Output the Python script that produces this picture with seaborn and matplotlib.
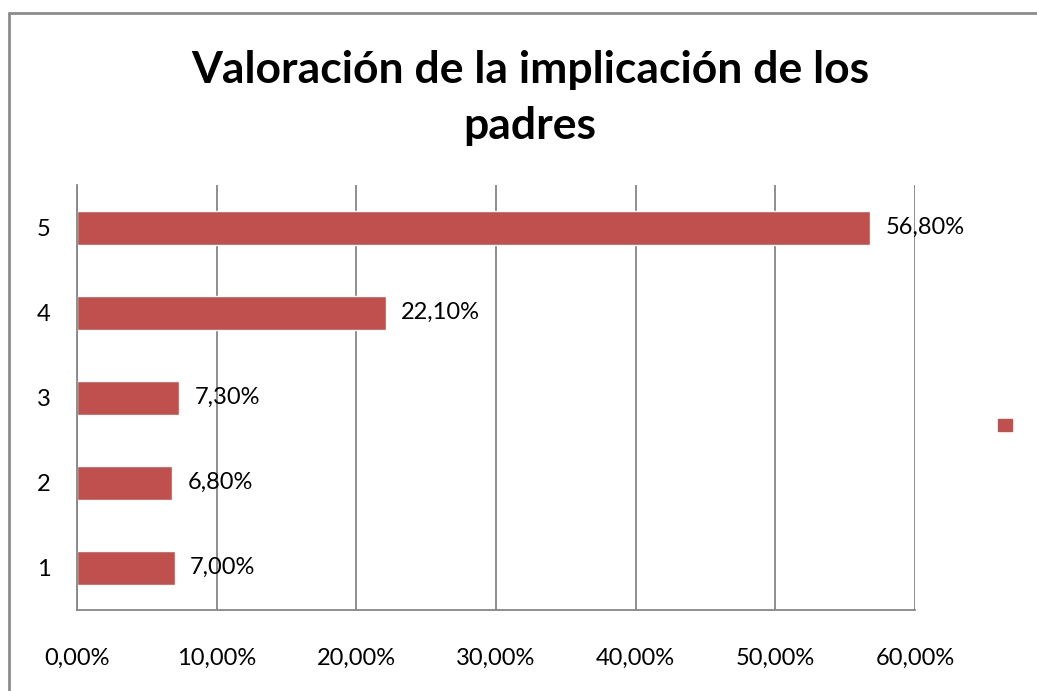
import matplotlib.pyplot as plt
import matplotlib.ticker as mticker
from matplotlib.lines import Line2D
from matplotlib.patches import Patch
import pandas as pd
import seaborn as sns

categories = ['5', '4', '3', '2', '1']
values = [56.8, 22.1, 7.3, 6.8, 7.0]
x_ticks = [0, 10, 20, 30, 40, 50, 60]

BAR_COLOR = '#C0504D'
GRID_COLOR = '#868686'


def fmt_pct(v):
    return f"{v:.2f}%".replace('.', ',')


def plot_chart():
    df = pd.DataFrame({'Valor': categories, 'Porcentaje': values})

    sns.set_style("white")
    plt.rcParams['font.family'] = ['Lato', 'DejaVu Sans']

    fig = plt.figure(figsize=(10.37, 6.91), dpi=100)
    ax = fig.add_axes([77 / 1037, 1 - 610 / 691, (915 - 77) / 1037, (610 - 185) / 691])

    sns.barplot(data=df, x='Porcentaje', y='Valor', order=categories, color=BAR_COLOR,
                saturation=1, width=0.4, ax=ax, orient='h')

    # value labels
    for i, v in enumerate(values):
        ax.text(v + 1.1, i, fmt_pct(v), ha='left', va='center', fontsize=17, color='black')

    ax.set_xlim(0, 60)
    ax.set_ylim(4.5, -0.5)
    ax.set_xticks(x_ticks)
    ax.xaxis.set_major_formatter(mticker.FuncFormatter(lambda v, p: fmt_pct(v)))
    ax.grid(axis='x', color=GRID_COLOR, linewidth=1.3)
    ax.set_axisbelow(True)
    ax.tick_params(axis='x', length=0, pad=27, labelsize=17, labelcolor='black')
    ax.tick_params(axis='y', length=0, pad=19, labelsize=17, labelcolor='black')
    ax.set_xlabel('')
    ax.set_ylabel('')

    for s in ['top', 'right']:
        ax.spines[s].set_visible(False)
    for s in ['left', 'bottom']:
        ax.spines[s].set_color(GRID_COLOR)
        ax.spines[s].set_linewidth(1.3)

    fig.text(530 / 1037, 1 - 98 / 691, 'Valoración de la implicación de los\npadres',
             ha='center', va='center', fontsize=32, fontweight='bold', linespacing=1.5,
             color='black')

    # legend with a bare marker, as in the original
    fig.legend(handles=[Patch(color=BAR_COLOR)], labels=[''], loc='center',
               bbox_to_anchor=(1005 / 1037, 1 - 425 / 691), frameon=False,
               handlelength=1.0, handleheight=1.0, handletextpad=0)

    # outer chart border (left and top visible)
    bx = 9 / 1037
    by = 1 - 13 / 691
    fig.add_artist(Line2D([bx, bx], [0, by], color='#8C8C8C', linewidth=2, transform=fig.transFigure))
    fig.add_artist(Line2D([bx, 1], [by, by], color='#8C8C8C', linewidth=2, transform=fig.transFigure))

    fig.savefig('out.png', dpi=100)


if __name__ == "__main__":
    plot_chart()
